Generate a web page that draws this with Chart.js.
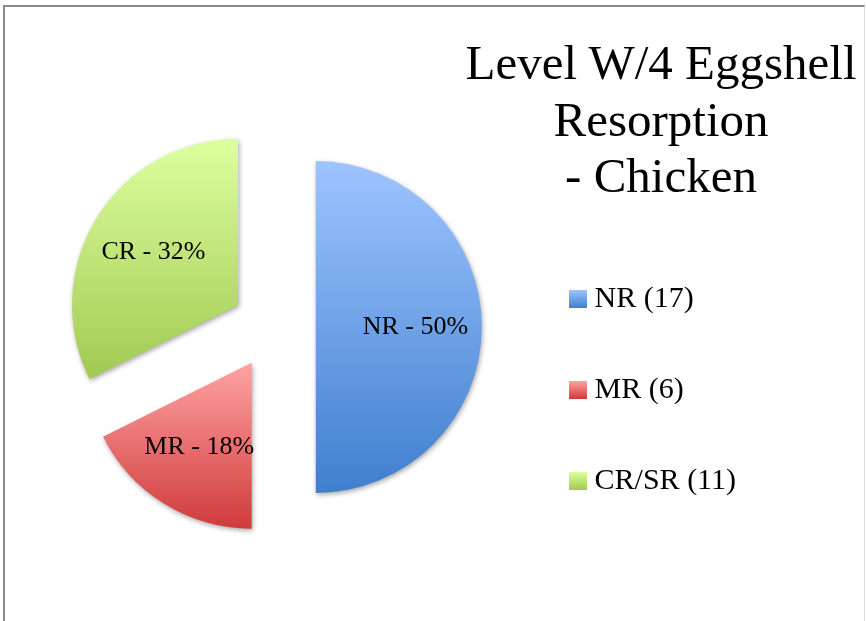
<!DOCTYPE html>
<html>
<head>
<meta charset="UTF-8">
<title>Level W/4 Eggshell Resorption - Chicken</title>
<script src="https://cdn.jsdelivr.net/npm/chart.js"></script>
<style>
body{margin:0; background:#fff;}
#frame{position:absolute; left:3px; top:5px; width:859px; height:640px; border-top:2px solid #8a8a8a; border-left:2px solid #8a8a8a; border-right:1px solid #dcdcdc;}
#myChart{position:absolute; left:0; top:0;}
#title{position:absolute; left:441px; top:35px; width:440px; text-align:center; font-family:"Liberation Serif", serif; font-size:49px; line-height:56.5px; color:#000;}
</style>
</head>
<body>
<div id="frame"></div>
<canvas id="myChart" width="866" height="621"></canvas>
<div id="title">Level W/4 Eggshell<br>Resorption<br>- Chicken</div>

<script>
// data
const categories = ['NR', 'MR', 'CR/SR'];
const sliceNames = ['NR', 'MR', 'CR'];
const counts = [17, 6, 11];

// colours (top / bottom of each gradient)
const topColors = ['#9ec4ff', '#ffa3a3', '#ddff9f'];
const bottomColors = ['#3f7fce', '#cf3b3b', '#a2c952'];

const gap = 42; // how far each slice is pulled out

const total = counts.reduce((a, b) => a + b, 0);

function swatch(i) {
	const c = document.createElement('canvas');
	c.width = 18; c.height = 18;
	const g = c.getContext('2d');
	const gr = g.createLinearGradient(0, 0, 0, 18);
	gr.addColorStop(0, topColors[i]);
	gr.addColorStop(1, bottomColors[i]);
	g.fillStyle = gr;
	g.fillRect(0, 0, 18, 18);
	return c;
}

// draws the slices pulled apart, each with its own vertical gradient
const explodePlugin = {
	id: 'explode',
	beforeDatasetDraw(chart, args) {
		const ctx = chart.ctx;
		args.meta.data.forEach((arc, i) => {
			const mid = (arc.startAngle + arc.endAngle) / 2;
			let top = arc.y, bottom = arc.y;
			for (let k = 0; k <= 60; k++) {
				const a = arc.startAngle + (arc.endAngle - arc.startAngle) * k / 60;
				const y = arc.y + Math.sin(a) * arc.outerRadius;
				top = Math.min(top, y);
				bottom = Math.max(bottom, y);
			}
			const grad = ctx.createLinearGradient(0, top, 0, bottom);
			grad.addColorStop(0, topColors[i]);
			grad.addColorStop(1, bottomColors[i]);

			const el = Object.create(arc);
			el.options = Object.assign({}, arc.options, {backgroundColor: grad});

			ctx.save();
			ctx.translate(Math.cos(mid) * gap, Math.sin(mid) * gap);
			ctx.shadowColor = 'rgba(0,0,0,0.35)';
			ctx.shadowBlur = 5;
			ctx.shadowOffsetX = 1;
			ctx.shadowOffsetY = 2;
			el.draw(ctx);
			ctx.restore();
		});
		return false;
	},
	afterDatasetsDraw(chart) {
		const ctx = chart.ctx;
		const meta = chart.getDatasetMeta(0);
		ctx.save();
		ctx.font = '26px "Liberation Serif"';
		ctx.fillStyle = '#000';
		ctx.textAlign = 'center';
		ctx.textBaseline = 'middle';
		meta.data.forEach((arc, i) => {
			const mid = (arc.startAngle + arc.endAngle) / 2;
			const d = arc.outerRadius * 0.6 + gap;
			const pct = Math.round(counts[i] / total * 100);
			ctx.fillText(sliceNames[i] + ' - ' + pct + '%', arc.x + Math.cos(mid) * d, arc.y + Math.sin(mid) * d);
		});
		ctx.restore();
	}
};

const ctx = document.getElementById('myChart');
new Chart(ctx, {
	type: 'pie',
	data: {
		labels: categories,
		datasets: [{
			data: counts,
			backgroundColor: topColors,
			borderWidth: 0,
			radius: 166
		}]
	},
	options: {
		responsive: false,
		animation: false,
		layout: {
			padding: {left: 33, top: 97, right: 120, bottom: 64}
		},
		plugins: {
			tooltip: {enabled: false},
			legend: {
				position: 'right',
				align: 'end',
				labels: {
					usePointStyle: true,
					boxWidth: 4,
					padding: 61,
					color: '#000',
					font: {family: 'Liberation Serif', size: 30},
					generateLabels: function(chart) {
						return categories.map((c, i) => ({
							text: c + ' (' + counts[i] + ')',
							fillStyle: topColors[i],
							strokeStyle: 'rgba(0,0,0,0)',
							lineWidth: 0,
							pointStyle: swatch(i),
							fontColor: '#000',
							hidden: false,
							index: i
						}));
					}
				}
			}
		}
	},
	plugins: [explodePlugin]
});
</script>
</body>
</html>
